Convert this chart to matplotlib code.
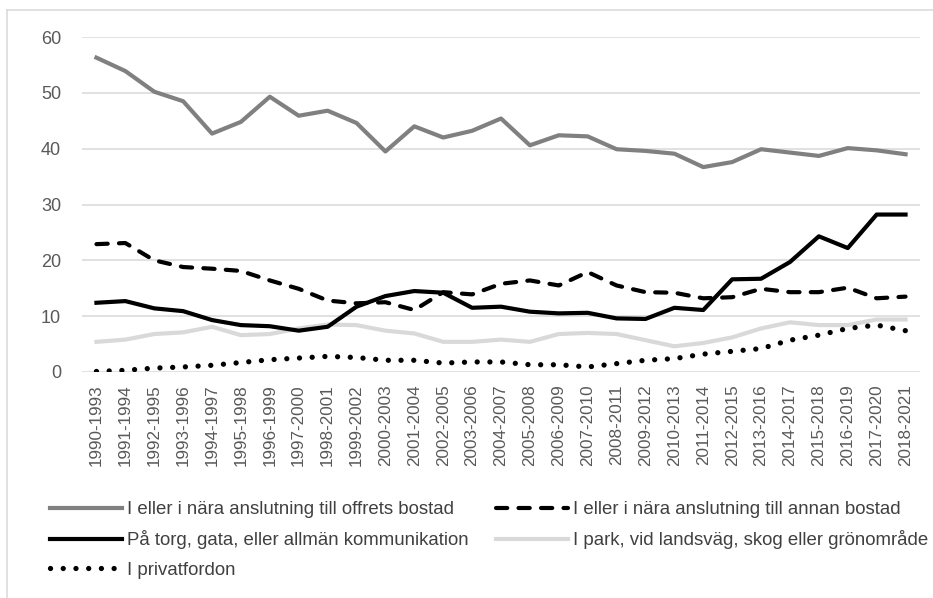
import matplotlib
matplotlib.use("Agg")
from matplotlib import pyplot as plt
from matplotlib.lines import Line2D

periods = ["%d-%d" % (y, y + 3) for y in range(1990, 2019)]

offrets_bostad = [56.3, 53.9, 50.2, 48.5, 42.7, 44.8, 49.3, 45.9, 46.8, 44.6,
                  39.5, 44.0, 42.0, 43.2, 45.4, 40.6, 42.4, 42.2, 39.9, 39.6,
                  39.1, 36.7, 37.6, 39.9, 39.3, 38.7, 40.1, 39.7, 39.0]
annan_bostad = [22.9, 23.1, 20.0, 18.8, 18.5, 18.1, 16.4, 14.9, 12.8, 12.3,
                12.5, 11.1, 14.3, 13.9, 15.8, 16.4, 15.5, 17.9, 15.5, 14.3,
                14.2, 13.2, 13.4, 14.9, 14.3, 14.3, 15.1, 13.2, 13.5]
torg_gata = [12.4, 12.7, 11.4, 10.9, 9.3, 8.4, 8.2, 7.4, 8.1, 11.7,
             13.6, 14.5, 14.2, 11.5, 11.7, 10.8, 10.5, 10.6, 9.6, 9.5,
             11.5, 11.1, 16.6, 16.7, 19.7, 24.3, 22.2, 28.2, 28.2]
park_skog = [5.4, 5.8, 6.8, 7.1, 8.1, 6.6, 6.8, 7.8, 8.5, 8.4,
             7.4, 6.9, 5.4, 5.4, 5.8, 5.4, 6.8, 7.0, 6.8, 5.7,
             4.6, 5.2, 6.2, 7.8, 8.9, 8.4, 8.4, 9.4, 9.4]
privatfordon = [0.1, 0.3, 0.7, 0.9, 1.2, 1.7, 2.2, 2.5, 2.8, 2.6,
                2.1, 2.1, 1.6, 1.8, 1.8, 1.3, 1.3, 0.9, 1.5, 2.1,
                2.4, 3.2, 3.7, 4.2, 5.7, 6.6, 7.8, 8.4, 7.4]

labels = ["I eller i nära anslutning till offrets bostad",
          "I eller i nära anslutning till annan bostad",
          "På torg, gata, eller allmän kommunikation",
          "I park, vid landsväg, skog eller grönområde",
          "I privatfordon"]

plt.rcParams['font.family'] = ['Liberation Sans', 'DejaVu Sans']
plt.rcParams['lines.dash_capstyle'] = 'round'

W, H = 933, 598
fig = plt.figure(figsize=(W / 100, H / 100), dpi=100)
ax = fig.add_axes([82 / W, 1 - 372 / H, (920 - 82) / W, (372 - 37) / H])

x = list(range(len(periods)))
lw = 3.0
l1, = ax.plot(x, offrets_bostad, color='#808080', lw=lw, solid_joinstyle='round')
l2, = ax.plot(x, annan_bostad, color='black', lw=lw, dashes=(2.7, 2.7))
l3, = ax.plot(x, torg_gata, color='black', lw=lw, solid_joinstyle='round')
l4, = ax.plot(x, park_skog, color='#d9d9d9', lw=lw, solid_joinstyle='round')
l5, = ax.plot(x, privatfordon, color='black', lw=3.8, dashes=(0.01, 2.4))
# park line sits under the others in the original
l4.set_zorder(1.5)

ax.set_xlim(-0.5, len(periods) - 0.5)
ax.set_ylim(0, 60)
ax.set_yticks(range(0, 61, 10))
ax.set_xticks(x)
ax.set_xticklabels(periods, rotation=90, fontsize=12.3, color='#595959')
ax.tick_params(axis='y', labelsize=13, labelcolor='#595959', length=0, pad=15)
ax.tick_params(axis='x', length=0, pad=9)
ax.grid(axis='y', color='#d9d9d9', lw=1.1)
ax.set_axisbelow(True)
for s in ax.spines.values():
    s.set_visible(False)

# legend rows go across, so feed the columns in that order
leg = fig.legend([l1, l3, l5, l2, l4], [labels[0], labels[2], labels[4], labels[1], labels[3]],
                 ncol=2, loc='upper left', bbox_to_anchor=(50 / W, 1 - 501 / H),
                 frameon=False, fontsize=13.4, handlelength=3.85, handletextpad=0.27,
                 columnspacing=1.5, labelspacing=0.66, borderpad=0, borderaxespad=0,
                 labelcolor='#404040')

# outer border of the chart area (cut off on the right and bottom)
fig.add_artist(Line2D([7 / W, 7 / W], [0, 1 - 10 / H], color='#d9d9d9', lw=1.1,
                      transform=fig.transFigure))
fig.add_artist(Line2D([7 / W, 1], [1 - 10 / H, 1 - 10 / H], color='#d9d9d9', lw=1.1,
                      transform=fig.transFigure))

fig.savefig('out.png', dpi=100)
